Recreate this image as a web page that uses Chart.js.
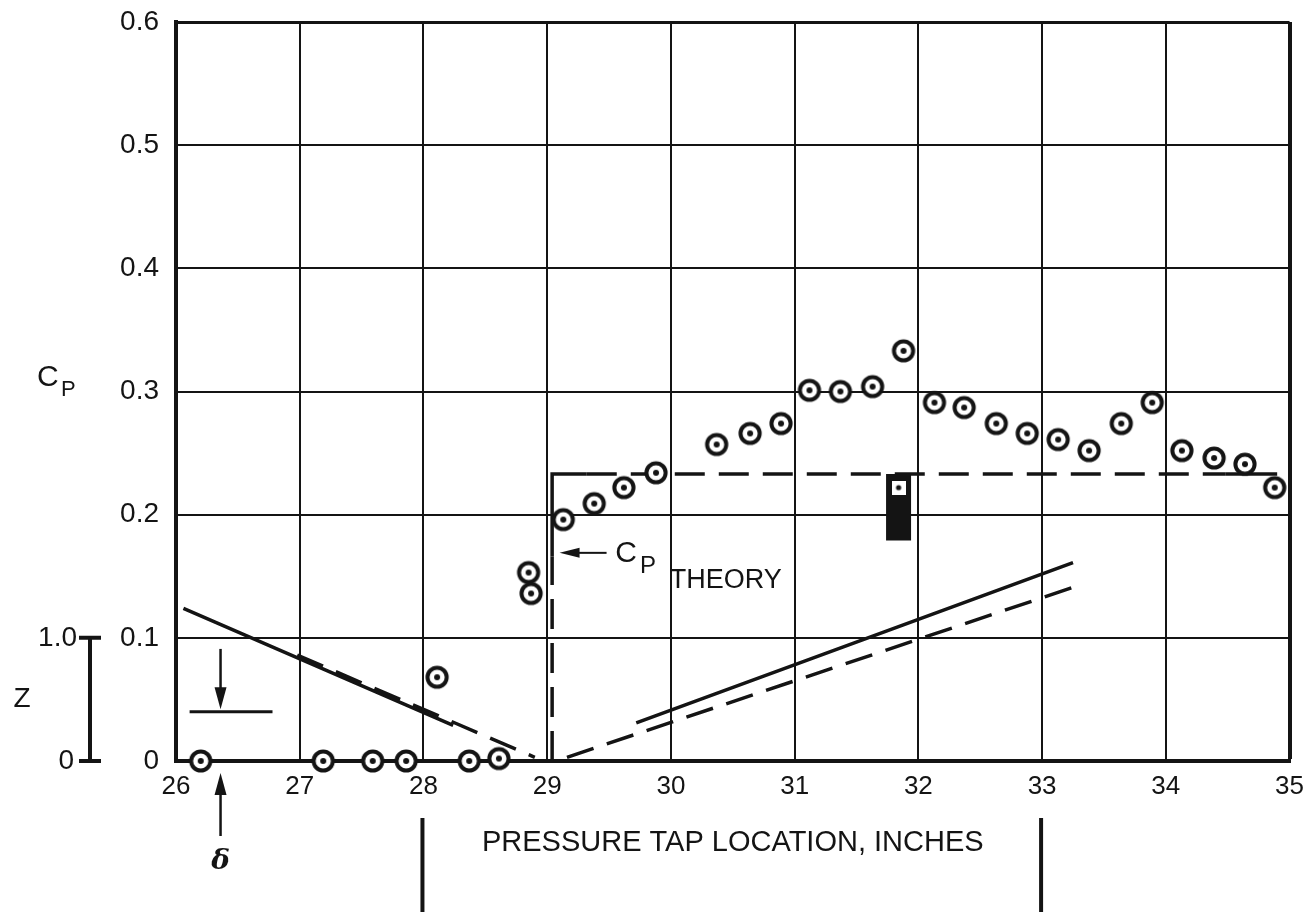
<!DOCTYPE html>
<html lang="en">
<head>
<meta charset="UTF-8">
<title>Cp vs pressure tap location</title>
<script src="https://cdn.jsdelivr.net/npm/chart.js"></script>
<style>
  html, body { margin: 0; padding: 0; background: #fff; }
  #wrap { width: 1314px; height: 914px; position: relative; }
</style>
</head>
<body>
<div id="wrap"><canvas id="cpChart"></canvas></div>
<script>
// measured Cp at the pressure taps (circle symbols)
const tapX  = [26.20, 27.19, 27.59, 27.86, 28.11, 28.37, 28.61, 28.85, 28.87, 29.13, 29.38, 29.62, 29.88,
               30.37, 30.64, 30.89, 31.12, 31.37, 31.63, 31.88, 32.13, 32.37, 32.63, 32.88, 33.13, 33.38,
               33.64, 33.89, 34.13, 34.39, 34.64, 34.88];
const tapCp = [0.000, 0.000, 0.000, 0.000, 0.068, 0.000, 0.002, 0.153, 0.136, 0.196, 0.209, 0.222, 0.234,
               0.257, 0.266, 0.274, 0.301, 0.300, 0.304, 0.333, 0.291, 0.287, 0.274, 0.266, 0.261, 0.252,
               0.274, 0.291, 0.252, 0.246, 0.241, 0.222];

// tap on the block (square symbol) and the block itself
const blockTapX  = [31.84];
const blockTapCp = [0.222];
const blockX  = [31.84, 31.84];
const blockCp = [0.179, 0.233];

// Cp theory step; dashed segments flagged
const theoryX  = [29.04, 29.04, 29.04, 29.32, 34.48, 34.90];
const theoryCp = [0.000, 0.166, 0.233, 0.233, 0.233, 0.233];
const theoryDashed = [true, false, false, true, false];

// model contour (Z), solid and dashed
const contourSolidX  = [26.06, 28.24, null, 29.72, 33.25];
const contourSolidCp = [0.124, 0.029, null, 0.031, 0.161];
const contourDashX   = [26.98, 28.90, null, 29.16, 33.28];
const contourDashCp  = [0.086, 0.003, null, 0.003, 0.142];

// axes
const xTicks = [26, 27, 28, 29, 30, 31, 32, 33, 34, 35];
const yTicks = [0, 0.1, 0.2, 0.3, 0.4, 0.5, 0.6];
const yTickLabels = ['0', '0.1', '0.2', '0.3', '0.4', '0.5', '0.6'];

const deltaX = 26.36;          // boundary layer marker
const modelEnds = [28, 33];    // model extent below the axis

const INK = '#141414';
const FONT = '"Liberation Sans", Arial, sans-serif';

function zip(xs, ys) {
  return xs.map((v, i) => ({ x: v, y: ys[i] }));
}

function ringMark() {
  const c = document.createElement('canvas');
  c.width = c.height = 28;
  const g = c.getContext('2d');
  g.beginPath(); g.arc(14, 14, 9.6, 0, Math.PI * 2);
  g.fillStyle = '#fff'; g.fill();
  g.lineWidth = 4; g.strokeStyle = INK; g.stroke();
  g.beginPath(); g.arc(14, 14, 3, 0, Math.PI * 2);
  g.fillStyle = INK; g.fill();
  return c;
}

function squareMark() {
  const c = document.createElement('canvas');
  c.width = c.height = 14;
  const g = c.getContext('2d');
  g.fillStyle = '#fff'; g.fillRect(0, 0, 14, 14);
  g.beginPath(); g.arc(7, 7, 2.6, 0, Math.PI * 2);
  g.fillStyle = INK; g.fill();
  return c;
}

function arrow(ctx, x1, y1, x2, y2, len, half) {
  const a = Math.atan2(y2 - y1, x2 - x1);
  ctx.beginPath();
  ctx.moveTo(x1, y1);
  ctx.lineTo(x2 - Math.cos(a) * len * 0.8, y2 - Math.sin(a) * len * 0.8);
  ctx.stroke();
  ctx.beginPath();
  ctx.moveTo(x2, y2);
  ctx.lineTo(x2 - Math.cos(a) * len - Math.sin(a) * half, y2 - Math.sin(a) * len + Math.cos(a) * half);
  ctx.lineTo(x2 - Math.cos(a) * len + Math.sin(a) * half, y2 - Math.sin(a) * len - Math.cos(a) * half);
  ctx.closePath();
  ctx.fill();
}

// everything drawn around the plot: labels, Z bar, delta arrows, model ends
const extras = {
  id: 'extras',
  afterDraw(chart) {
    const { ctx, chartArea: a, scales: { x, y } } = chart;
    ctx.save();
    ctx.fillStyle = INK;
    ctx.strokeStyle = INK;
    ctx.lineCap = 'butt';

    // delta marker inside plot
    const dx = x.getPixelForValue(deltaX);
    ctx.lineWidth = 2.5;
    arrow(ctx, dx, y.getPixelForValue(0.091), dx, y.getPixelForValue(0.042), 22, 6);
    ctx.lineWidth = 3;
    ctx.beginPath();
    ctx.moveTo(x.getPixelForValue(26.11), y.getPixelForValue(0.040));
    ctx.lineTo(x.getPixelForValue(26.78), y.getPixelForValue(0.040));
    ctx.stroke();

    // delta arrow below axis
    ctx.lineWidth = 2.5;
    arrow(ctx, dx, a.bottom + 75, dx, a.bottom + 12, 22, 6);
    ctx.font = 'bold italic 28px "DejaVu Serif", serif';
    ctx.textAlign = 'center';
    ctx.textBaseline = 'middle';
    ctx.fillText('\u03b4', dx, a.bottom + 101);

    // model extent bars
    ctx.lineWidth = 4;
    modelEnds.forEach(v => {
      const px = x.getPixelForValue(v) - 1;
      ctx.beginPath();
      ctx.moveTo(px, a.bottom + 57);
      ctx.lineTo(px, a.bottom + 151);
      ctx.stroke();
    });

    // Z scale bar (0 to 1.0 spans Cp 0 to 0.1)
    const zx = a.left - 86;
    const z0 = y.getPixelForValue(0), z1 = y.getPixelForValue(0.1);
    ctx.lineWidth = 4;
    ctx.beginPath();
    ctx.moveTo(zx, z0); ctx.lineTo(zx, z1);
    ctx.moveTo(zx - 11, z0); ctx.lineTo(zx + 11, z0);
    ctx.moveTo(zx - 11, z1); ctx.lineTo(zx + 11, z1);
    ctx.stroke();
    ctx.font = '28px ' + FONT;
    ctx.textAlign = 'right';
    ctx.fillText('1.0', zx - 13, z1);
    ctx.fillText('0', zx - 16, z0);
    ctx.textAlign = 'center';
    ctx.fillText('Z', a.left - 154, (z0 + z1) / 2);

    // y axis title C_P
    ctx.textAlign = 'left';
    ctx.textBaseline = 'alphabetic';
    ctx.font = '30px ' + FONT;
    ctx.fillText('C', a.left - 139, y.getPixelForValue(0.3) - 6);
    ctx.font = '22px ' + FONT;
    ctx.fillText('P', a.left - 115, y.getPixelForValue(0.3) + 4);

    // x axis title
    ctx.font = '29px ' + FONT;
    ctx.textAlign = 'center';
    ctx.textBaseline = 'middle';
    ctx.fillText('PRESSURE TAP LOCATION, INCHES', (a.left + a.right) / 2, a.bottom + 82);

    // Cp theory callout
    ctx.lineWidth = 2;
    arrow(ctx, x.getPixelForValue(29.48), y.getPixelForValue(0.169),
               x.getPixelForValue(29.10), y.getPixelForValue(0.169), 20, 5);
    ctx.textAlign = 'left';
    ctx.textBaseline = 'alphabetic';
    ctx.font = '30px ' + FONT;
    ctx.fillText('C', x.getPixelForValue(29.55), y.getPixelForValue(0.1616));
    ctx.font = '24px ' + FONT;
    ctx.fillText('P', x.getPixelForValue(29.75), y.getPixelForValue(0.1526));
    ctx.font = '27px ' + FONT;
    ctx.fillText('THEORY', x.getPixelForValue(29.99), y.getPixelForValue(0.1405));

    ctx.restore();
  }
};

const ctx = document.getElementById('cpChart').getContext('2d');
const cpChart = new Chart(ctx, {
  type: 'scatter',
  data: {
    datasets: [
      {
        label: 'Measured Cp',
        data: zip(tapX, tapCp),
        pointStyle: ringMark(),
        pointRadius: 12,
        showLine: false,
        clip: false,
        order: 0
      },
      {
        label: 'Block tap',
        data: zip(blockTapX, blockTapCp),
        pointStyle: squareMark(),
        pointRadius: 7,
        showLine: false,
        order: 0
      },
      {
        label: 'Block',
        data: zip(blockX, blockCp),
        showLine: true,
        borderColor: INK,
        borderWidth: 25,
        borderCapStyle: 'butt',
        pointRadius: 0,
        order: 1
      },
      {
        label: 'Cp theory',
        data: zip(theoryX, theoryCp),
        showLine: true,
        borderColor: INK,
        borderWidth: 3.5,
        pointRadius: 0,
        segment: {
          borderDash: c => theoryDashed[c.p0DataIndex] ? [30, 14] : []
        },
        order: 2
      },
      {
        label: 'Contour',
        data: zip(contourSolidX, contourSolidCp),
        showLine: true,
        spanGaps: false,
        borderColor: INK,
        borderWidth: 3.5,
        pointRadius: 0,
        order: 3
      },
      {
        label: 'Contour (dashed)',
        data: zip(contourDashX, contourDashCp),
        showLine: true,
        spanGaps: false,
        borderColor: INK,
        borderWidth: 3.5,
        borderDash: [28, 14],
        pointRadius: 0,
        order: 3
      }
    ]
  },
  options: {
    responsive: true,
    maintainAspectRatio: false,
    animation: false,
    layout: { padding: { top: 22, left: 0, right: 23, bottom: 113 } },
    plugins: { legend: { display: false }, tooltip: { enabled: false } },
    scales: {
      x: {
        type: 'linear',
        min: 26,
        max: 35,
        afterBuildTicks: s => { s.ticks = xTicks.map(v => ({ value: v })); },
        afterFit: s => { s.height = 40; },
        grid: {
          color: INK,
          lineWidth: c => (c.tick && c.tick.value === 35) ? 4 : 2,
          drawTicks: false
        },
        border: { color: INK, width: 4 },
        ticks: {
          color: INK,
          padding: 10,
          maxRotation: 0,
          font: { family: FONT, size: 26 },
          callback: v => String(v)
        }
      },
      y: {
        min: 0,
        max: 0.6,
        afterBuildTicks: s => { s.ticks = yTicks.map(v => ({ value: v })); },
        afterFit: s => { s.width = 176; s.paddingTop = 0; s.paddingBottom = 0; },
        grid: {
          color: INK,
          lineWidth: c => (c.tick && c.tick.value === 0.6) ? 3 : 2,
          drawTicks: false
        },
        border: { color: INK, width: 4 },
        ticks: {
          color: INK,
          padding: 17,
          font: { family: FONT, size: 28 },
          callback: (v, i) => yTickLabels[i]
        }
      }
    }
  },
  plugins: [extras]
});
</script>
</body>
</html>
